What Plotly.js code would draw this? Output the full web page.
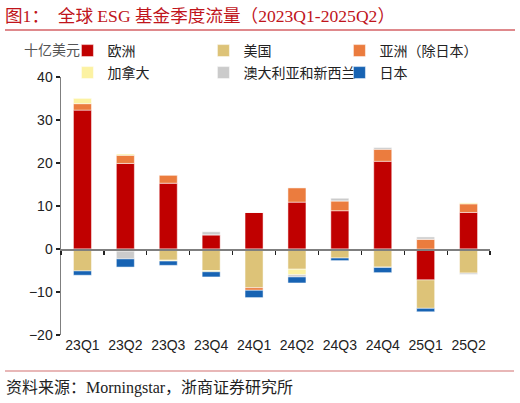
<!DOCTYPE html>
<html>
<head>
<meta charset="utf-8">
<script src="https://cdn.plot.ly/plotly-3.0.1.min.js"></script>
<style>
  html, body { margin: 0; padding: 0; background: #fff; }
  #plotDiv { width: 520px; height: 403px; }
</style>
</head>
<body>
<div id="plotDiv"></div>
<script>
// quarters and flows (billion USD)
var quarters = ['23Q1', '23Q2', '23Q3', '23Q4', '24Q1', '24Q2', '24Q3', '24Q4', '25Q1', '25Q2'];
var europe   = [32.3, 19.9, 15.3, 3.3, 8.5, 10.9, 8.9, 20.4, -7.2, 8.5];
var usa      = [-5.1, -0.5, -2.6, -5.0, -9.0, -4.7, -2.1, -4.2, -6.6, -5.6];
var asia     = [1.5, 1.9, 1.9, 0, -0.6, 3.3, 2.3, 2.8, 2.3, 2.0];
var canada   = [1.3, 0.3, -0.2, -0.3, 0, -1.3, 0, -0.1, 0, 0.3];
var ausnz    = [0, -1.8, 0, 0.7, 0, -0.5, 0.6, 0.4, 0.5, -0.3];
var japan    = [-1.0, -1.9, -1.0, -1.2, -1.7, -1.4, -0.6, -1.2, -0.8, 0];

var names  = ['欧洲', '美国', '亚洲（除日本）', '加拿大', '澳大利亚和新西兰', '日本'];
var colors = ['#C00000', '#DDC378', '#EB7C3E', '#FCF2A2', '#CBCBCB', '#1763B3'];
var series = [europe, usa, asia, canada, ausnz, japan];

var cjk = '"Liberation Sans", "Noto Sans CJK SC", sans-serif';
var serif = '"Liberation Serif", "Noto Sans CJK SC", serif';

var data = [];
for (var i = 0; i < series.length; i++) {
  data.push({
    type: 'bar',
    x: quarters,
    y: series[i],
    name: names[i],
    legend: i < 3 ? 'legend' : 'legend2',
    width: 0.42,
    marker: { color: colors[i], line: { color: 'rgba(255,255,255,0.7)', width: 0.7 } },
    hoverinfo: 'name+y'
  });
}

// boundary ticks on the zero line
var boundaries = [];
for (var k = 0; k <= quarters.length; k++) boundaries.push(k - 0.5);

var legendBase = {
  orientation: 'h',
  xanchor: 'left', yanchor: 'middle',
  font: { family: cjk, size: 14, color: '#222' },
  entrywidth: 91,
  itemwidth: 30,
  traceorder: 'normal',
  bgcolor: 'rgba(0,0,0,0)',
  borderwidth: 0,
  tracegroupgap: 0,
  x: 0.015
};

var layout = {
  width: 520,
  height: 403,
  margin: { l: 61, r: 30, t: 77, b: 68, autoexpand: false },
  paper_bgcolor: '#fff',
  plot_bgcolor: '#fff',
  barmode: 'relative',
  showlegend: true,
  legend: Object.assign({}, legendBase, { y: 1 + (77 - 51) / 258 }),
  legend2: Object.assign({}, legendBase, { y: 1 + (77 - 73) / 258 }),
  xaxis: {
    type: 'category',
    range: [-0.5, quarters.length - 0.5],
    showline: false,
    ticks: '',
    showgrid: false,
    zeroline: false,
    tickfont: { family: '"Liberation Sans", Arial, sans-serif', size: 14, color: '#222' },
    ticklen: 0
  },
  xaxis2: {
    overlaying: 'x',
    anchor: 'free',
    position: 1 / 3,
    range: [-0.5, quarters.length - 0.5],
    showline: true,
    linecolor: '#7f7f7f',
    linewidth: 1.5,
    ticks: 'outside',
    tickmode: 'array',
    tickvals: boundaries,
    ticklen: 4,
    tickwidth: 1.2,
    tickcolor: '#222',
    showticklabels: false,
    showgrid: false,
    zeroline: false
  },
  yaxis: {
    range: [-20, 40],
    dtick: 10,
    showline: true,
    linecolor: '#7f7f7f',
    linewidth: 1.5,
    ticks: 'outside',
    ticklen: 4,
    tickwidth: 1.2,
    tickcolor: '#222',
    showgrid: false,
    zeroline: false,
    tickfont: { family: '"Liberation Sans", Arial, sans-serif', size: 14, color: '#222' }
  },
  annotations: [
    { text: '图1：  全球 ESG 基金季度流量（2023Q1-2025Q2）', xref: 'paper', yref: 'paper',
      x: -58 / 429, y: 1 + (77 - 16) / 258, xanchor: 'left', yanchor: 'middle', showarrow: false,
      font: { family: serif, size: 17.6, color: '#C0141B' } },
    { text: '十亿美元', xref: 'paper', yref: 'paper',
      x: -39 / 429, y: 1 + (77 - 50) / 258, xanchor: 'left', yanchor: 'middle', showarrow: false,
      font: { family: cjk, size: 14, color: '#555' } },
    { text: '资料来源：Morningstar，浙商证券研究所', xref: 'paper', yref: 'paper',
      x: -57 / 429, y: -(388 - 335) / 258, xanchor: 'left', yanchor: 'middle', showarrow: false,
      font: { family: serif, size: 16, color: '#222' } }
  ],
  shapes: [
    { type: 'line', xref: 'paper', yref: 'paper', x0: -56 / 429, x1: 1 + 25 / 429,
      y0: 1 + (77 - 30) / 258, y1: 1 + (77 - 30) / 258, line: { color: '#C0141B', width: 1.2 } },
    { type: 'line', xref: 'paper', yref: 'paper', x0: -56 / 429, x1: 1 + 24 / 429,
      y0: -(371 - 335) / 258, y1: -(371 - 335) / 258, line: { color: '#D27070', width: 1.2 } }
  ]
};

// invisible trace so the zero-line axis is drawn
data.push({ type: 'scatter', x: [0], y: [0], xaxis: 'x2', mode: 'markers',
  marker: { opacity: 0 }, showlegend: false, hoverinfo: 'skip' });

Plotly.newPlot('plotDiv', data, layout, { displayModeBar: false, staticPlot: true });
</script>
</body>
</html>
